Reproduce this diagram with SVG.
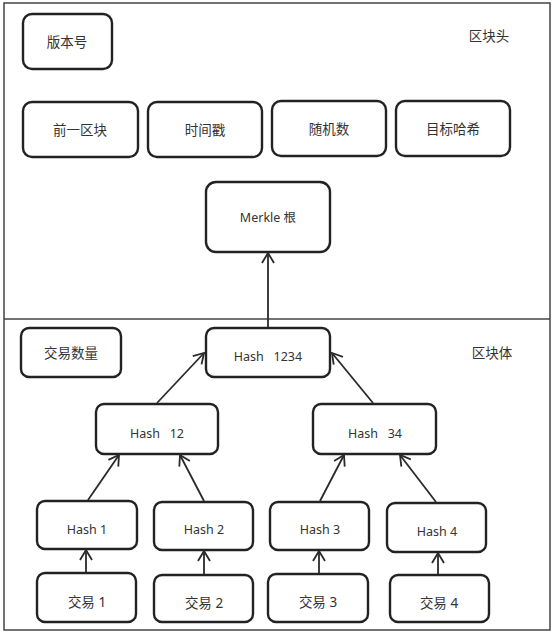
<svg xmlns="http://www.w3.org/2000/svg" width="554" height="633" viewBox="0 0 554 633">
<defs>
<style>
.box{fill:#fff;stroke:#222;stroke-width:2.4}
.t{font-family:"Noto Sans","Noto Sans CJK SC",sans-serif;font-size:12.5px;fill:#333;text-anchor:middle;dominant-baseline:central}
.cj{font-size:13.5px}
.c{stroke:#2a2a2a;stroke-width:1.8;fill:none;marker-end:url(#ah)}
</style>
<marker id="ah" viewBox="0 0 12 14" refX="11" refY="7" markerWidth="12" markerHeight="14" markerUnits="userSpaceOnUse" orient="auto">
<path d="M1,1 L11,7 L1,13" fill="none" stroke="#2a2a2a" stroke-width="1.8"/>
</marker>
</defs>
<rect x="0" y="0" width="554" height="633" fill="#fff"/>
<rect x="4" y="3" width="546" height="627" fill="none" stroke="#444" stroke-width="1.5"/>
<line x1="4" y1="319" x2="550" y2="319" stroke="#444" stroke-width="1.5"/>
<text class="t cj" x="489" y="36">区块头</text>
<text class="t cj" x="492" y="353">区块体</text>
<g id="n-version"><rect class="box" x="23" y="14" width="89" height="55" rx="9"/><text class="t cj" x="67" y="42">版本号</text></g>
<g id="n-prev"><rect class="box" x="23" y="102" width="115" height="55" rx="9"/><text class="t cj" x="80" y="130">前一区块</text></g>
<g id="n-time"><rect class="box" x="148" y="102" width="114" height="55" rx="9"/><text class="t cj" x="205" y="130">时间戳</text></g>
<g id="n-nonce"><rect class="box" x="272" y="101" width="114" height="55" rx="9"/><text class="t cj" x="329" y="129">随机数</text></g>
<g id="n-target"><rect class="box" x="396" y="101" width="114" height="55" rx="9"/><text class="t cj" x="453" y="129">目标哈希</text></g>
<g id="n-merkle"><rect class="box" x="206" y="182" width="124" height="70" rx="10"/><text class="t" x="268" y="217">Merkle 根</text></g>
<g id="n-count"><rect class="box" x="21" y="328" width="100" height="49" rx="8"/><text class="t cj" x="71" y="353">交易数量</text></g>
<g id="n-h1234"><rect class="box" x="206" y="328" width="124" height="49" rx="8"/><text class="t" x="268" y="356" xml:space="preserve">Hash   1234</text></g>
<g id="n-h12"><rect class="box" x="96" y="404" width="122" height="50" rx="8"/><text class="t" x="157" y="433" xml:space="preserve">Hash   12</text></g>
<g id="n-h34"><rect class="box" x="313" y="404" width="123" height="50" rx="8"/><text class="t" x="375" y="433" xml:space="preserve">Hash   34</text></g>
<g id="n-h1"><rect class="box" x="37" y="501" width="100" height="48" rx="8"/><text class="t" x="87" y="529">Hash 1</text></g>
<g id="n-h2"><rect class="box" x="154" y="502" width="99" height="48" rx="8"/><text class="t" x="204" y="529">Hash 2</text></g>
<g id="n-h3"><rect class="box" x="270" y="502" width="99" height="48" rx="8"/><text class="t" x="320" y="529">Hash 3</text></g>
<g id="n-h4"><rect class="box" x="387" y="503" width="99" height="49" rx="8"/><text class="t" x="437" y="531">Hash 4</text></g>
<g id="n-tx1"><rect class="box" x="37" y="573" width="99" height="49" rx="8"/><text class="t cj" x="87" y="602">交易 1</text></g>
<g id="n-tx2"><rect class="box" x="154" y="575" width="99" height="47" rx="8"/><text class="t cj" x="204" y="603">交易 2</text></g>
<g id="n-tx3"><rect class="box" x="268" y="574" width="100" height="48" rx="8"/><text class="t cj" x="318" y="602">交易 3</text></g>
<g id="n-tx4"><rect class="box" x="390" y="575" width="99" height="47" rx="8"/><text class="t cj" x="439" y="603">交易 4</text></g>
<g id="connectors">
<line class="c" x1="268" y1="327" x2="268" y2="253"/>
<line class="c" x1="157" y1="403" x2="204" y2="353"/>
<line class="c" x1="373" y1="403" x2="332" y2="353"/>
<line class="c" x1="88" y1="500" x2="119" y2="455"/>
<line class="c" x1="204" y1="501" x2="180" y2="455"/>
<line class="c" x1="320" y1="501" x2="344" y2="455"/>
<line class="c" x1="436" y1="502" x2="400" y2="455"/>
<line class="c" x1="86" y1="572" x2="86" y2="550"/>
<line class="c" x1="204" y1="574" x2="204" y2="551"/>
<line class="c" x1="319" y1="573" x2="319" y2="551"/>
<line class="c" x1="438" y1="574" x2="438" y2="553"/>
</g>
</svg>
